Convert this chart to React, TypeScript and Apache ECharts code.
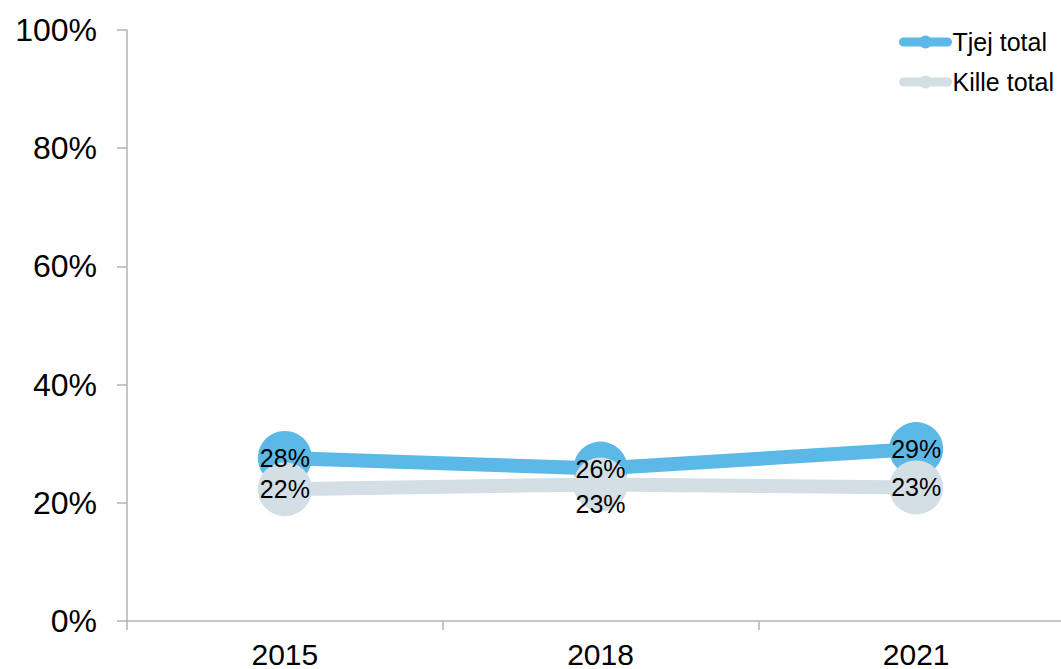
import React, { useEffect, useRef } from "react";
import * as echarts from "echarts";

const years = ["2015", "2018", "2021"];
const tjejValues = [27.6, 25.8, 29.1];
const killeValues = [22.3, 23.1, 22.6];
const seriesNames = ["Tjej total", "Kille total"];

const FONT = "'Liberation Sans', Arial, sans-serif";
const BLUE = "#5cb9e7";
const GREY = "#d3dfe5";
const AXIS = "#b3b3b3";

export default function App() {
  const ref = useRef<HTMLDivElement>(null);
  useEffect(() => {
    if (!ref.current) return;
    const chart = echarts.init(ref.current, undefined, { renderer: "svg" });
    const labelBase = {
      show: true,
      position: "inside" as const,
      fontSize: 25,
      color: "#000",
      fontFamily: FONT,
      formatter: (p: any) => Math.round(p.value) + "%",
    };
    const killeData = killeValues.map((v, i) =>
      i === 1 ? { value: v, label: { offset: [0, 20] } } : v
    );
    chart.setOption({
      animation: false,
      textStyle: { fontFamily: FONT },
      grid: { left: 127, top: 30, bottom: 46.5, right: 1, containLabel: false },
      legend: {
        orient: "vertical",
        left: 899,
        top: 29.5,
        padding: 0,
        itemWidth: 44,
        itemHeight: 16,
        itemGap: 15,
        lineStyle: { width: 9, cap: "round" },
        textStyle: { fontSize: 25, color: "#000", fontFamily: FONT, lineHeight: 25 },
        data: seriesNames,
      },
      xAxis: {
        type: "category",
        data: years,
        boundaryGap: true,
        axisLine: { lineStyle: { color: AXIS, width: 1.5 } },
        axisTick: { show: true, length: 9, lineStyle: { color: AXIS, width: 1.5 } },
        axisLabel: { fontSize: 30, color: "#000", fontFamily: FONT, margin: 18 },
      },
      yAxis: {
        type: "value",
        min: 0,
        max: 100,
        interval: 20,
        axisLine: { show: true, lineStyle: { color: AXIS, width: 1.5 } },
        axisTick: { show: true, length: 10, lineStyle: { color: AXIS, width: 1.5 } },
        splitLine: { show: false },
        axisLabel: {
          fontSize: 32,
          color: "#000",
          fontFamily: FONT,
          margin: 30,
          formatter: "{value}%",
        },
      },
      series: [
        {
          name: seriesNames[0],
          type: "line",
          data: tjejValues,
          symbol: "circle",
          symbolSize: 54,
          lineStyle: { width: 14, color: BLUE },
          itemStyle: { color: BLUE },
          label: labelBase,
        },
        {
          name: seriesNames[1],
          type: "line",
          data: killeData,
          symbol: "circle",
          symbolSize: 54,
          lineStyle: { width: 14, color: GREY },
          itemStyle: { color: GREY },
          label: labelBase,
        },
      ],
    });
    return () => chart.dispose();
  }, []);
  return (
    <div
      style={{
        position: "fixed",
        left: 0,
        top: 0,
        width: 1061,
        height: 669,
        overflow: "hidden",
        background: "#fff",
      }}
    >
      <div ref={ref} style={{ width: 1075, height: 669 }} />
    </div>
  );
}
